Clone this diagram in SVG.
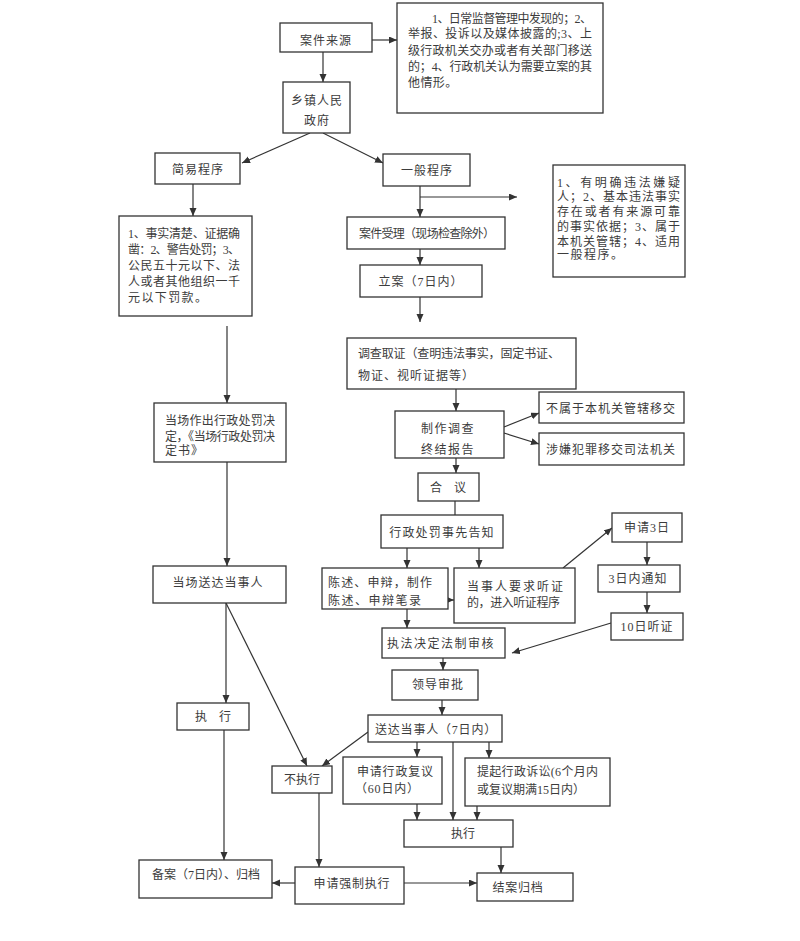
<svg xmlns="http://www.w3.org/2000/svg" width="800" height="941" viewBox="0 0 800 941">
<style>
rect.b{fill:#fff;stroke:#333;stroke-width:1.3}
text{font-family:"Liberation Serif","Noto Sans CJK SC",serif;font-size:12px;fill:#3c3c3c}
text.c{text-anchor:middle}
.cn line,.cn path{stroke:#333;stroke-width:1.2;fill:none}
.cn .a{marker-end:url(#ah)}
</style>
<defs>
<marker id="ah" markerUnits="userSpaceOnUse" markerWidth="9" markerHeight="8" refX="8" refY="3.5" orient="auto">
<path d="M0,0 L8,3.5 L0,7 z" fill="#333"/>
</marker>
</defs>
<rect width="800" height="941" fill="#fff"/>

<g class="cn" id="connectors">
<line class="a" x1="372" y1="40" x2="397" y2="40"/>
<line class="a" x1="323" y1="52" x2="323" y2="82"/>
<line class="a" x1="310" y1="133" x2="242" y2="163"/>
<line class="a" x1="323" y1="133" x2="383" y2="163"/>
<line class="a" x1="193" y1="184" x2="193" y2="216"/>
<line class="a" x1="420" y1="186" x2="420" y2="217"/>
<line class="a" x1="420" y1="197" x2="517" y2="197"/>
<line class="a" x1="420" y1="249" x2="420" y2="265"/>
<line class="a" x1="420" y1="297" x2="420" y2="322"/>
<line class="a" x1="227" y1="326" x2="227" y2="403"/>
<line class="a" x1="227" y1="462" x2="227" y2="566"/>
<line class="a" x1="226" y1="603" x2="226" y2="703"/>
<line class="a" x1="226" y1="603" x2="307" y2="766"/>
<line class="a" x1="224" y1="730" x2="224" y2="860"/>
<line class="a" x1="368" y1="732" x2="322" y2="766"/>
<line class="a" x1="319" y1="793" x2="319" y2="867"/>
<line class="a" x1="295" y1="883" x2="272" y2="883"/>
<line class="a" x1="404" y1="883" x2="477" y2="883"/>
<line class="a" x1="456" y1="389" x2="456" y2="411"/>
<line class="a" x1="504" y1="427" x2="539" y2="413"/>
<line class="a" x1="504" y1="433" x2="539" y2="444"/>
<line class="a" x1="456" y1="458" x2="456" y2="473"/>
<line x1="455" y1="501" x2="455" y2="515"/>
<line class="a" x1="407" y1="548" x2="407" y2="568"/>
<line class="a" x1="479" y1="548" x2="479" y2="568"/>
<line class="a" x1="446" y1="600" x2="454" y2="600"/>
<line class="a" x1="407" y1="609" x2="407" y2="628"/>
<line class="a" x1="563" y1="568" x2="612" y2="528"/>
<line class="a" x1="647" y1="542" x2="647" y2="565"/>
<line class="a" x1="647" y1="592" x2="647" y2="613"/>
<line class="a" x1="611" y1="623" x2="512" y2="653"/>
<line class="a" x1="443" y1="658" x2="443" y2="670"/>
<line class="a" x1="442" y1="700" x2="442" y2="715"/>
<line class="a" x1="417" y1="742" x2="417" y2="757"/>
<line class="a" x1="489" y1="742" x2="489" y2="758"/>
<line class="a" x1="453" y1="742" x2="453" y2="820"/>
<line class="a" x1="417" y1="804" x2="417" y2="820"/>
<line class="a" x1="477" y1="806" x2="477" y2="820"/>
<line class="a" x1="501" y1="847" x2="501" y2="873"/>
</g>

<g id="n-source">
<rect class="b" x="280" y="23" width="92" height="29"/>
<text class="c" x="326" y="44.5" letter-spacing="1">案件来源</text>
</g>

<g id="n-source-list">
<rect class="b" x="397" y="3" width="206" height="110"/>
<text x="432" y="22.5" textLength="160" lengthAdjust="spacing">1、日常监督管理中发现的；2、</text>
<text x="408" y="38" textLength="184" lengthAdjust="spacing">举报、投诉以及媒体披露的;3、上</text>
<text x="408" y="54.5" textLength="184" lengthAdjust="spacing">级行政机关交办或者有关部门移送</text>
<text x="408" y="71" textLength="184" lengthAdjust="spacing">的；4、行政机关认为需要立案的其</text>
<text x="408" y="86.5" letter-spacing="0.4">他情形。</text>
</g>

<g id="n-town">
<rect class="b" x="283" y="82" width="67" height="51"/>
<text class="c" x="317" y="104.5" letter-spacing="1">乡镇人民</text>
<text class="c" x="317" y="124.5" letter-spacing="1">政府</text>
</g>

<g id="n-simple">
<rect class="b" x="155" y="153" width="85" height="31"/>
<text class="c" x="198" y="174" letter-spacing="1">简易程序</text>
</g>

<g id="n-general">
<rect class="b" x="383" y="154" width="87" height="32"/>
<text class="c" x="427" y="174.5" letter-spacing="1">一般程序</text>
</g>

<g id="n-simple-cond">
<rect class="b" x="119" y="216" width="133" height="100"/>
<text x="128" y="237.5" textLength="112" lengthAdjust="spacing">1、事实清楚、证据确</text>
<text x="128" y="253.5" textLength="112" lengthAdjust="spacing">凿：2、警告处罚；3、</text>
<text x="128" y="269.5" textLength="112" lengthAdjust="spacing">公民五十元以下、法</text>
<text x="128" y="285.5" textLength="112" lengthAdjust="spacing">人或者其他组织一千</text>
<text x="128" y="301.5" letter-spacing="1.4">元以下罚款。</text>
</g>

<g id="n-general-cond">
<rect class="b" x="553" y="165" width="132" height="112"/>
<text x="557" y="186.5" textLength="123" lengthAdjust="spacing">1、有明确违法嫌疑</text>
<text x="557" y="201" textLength="123" lengthAdjust="spacing">人；2、基本违法事实</text>
<text x="557" y="215.5" textLength="123" lengthAdjust="spacing">存在或者有来源可靠</text>
<text x="557" y="230.5" textLength="123" lengthAdjust="spacing">的事实依据；3、属于</text>
<text x="557" y="245.5" textLength="123" lengthAdjust="spacing">本机关管辖；4、适用</text>
<text x="557" y="258.5" letter-spacing="1.5">一般程序。</text>
</g>

<g id="n-accept">
<rect class="b" x="347" y="217" width="158" height="32"/>
<text class="c" x="427" y="237.5" textLength="136" lengthAdjust="spacing">案件受理（现场检查除外）</text>
</g>

<g id="n-file">
<rect class="b" x="360" y="265" width="122" height="32"/>
<text class="c" x="421" y="286" letter-spacing="1">立案（7日内）</text>
</g>

<g id="n-investigate">
<rect class="b" x="347" y="338" width="229" height="51"/>
<text x="358" y="357.5" textLength="202" lengthAdjust="spacing">调查取证（查明违法事实，固定书证、</text>
<text x="358" y="379.5" letter-spacing="1">物证、视听证据等）</text>
</g>

<g id="n-report">
<rect class="b" x="395" y="411" width="109" height="47"/>
<text class="c" x="448" y="432.5" letter-spacing="1.5">制作调查</text>
<text class="c" x="448" y="454" letter-spacing="1.5">终结报告</text>
</g>

<g id="n-transfer">
<rect class="b" x="539" y="392" width="145" height="31"/>
<text class="c" x="611" y="413" letter-spacing="1">不属于本机关管辖移交</text>
</g>

<g id="n-crime">
<rect class="b" x="539" y="433" width="145" height="32"/>
<text class="c" x="611" y="454" letter-spacing="1">涉嫌犯罪移交司法机关</text>
</g>

<g id="n-discuss">
<rect class="b" x="418" y="473" width="61" height="28"/>
<text class="c" x="448" y="491.5">合　议</text>
</g>

<g id="n-notice">
<rect class="b" x="381" y="515" width="122" height="33"/>
<text class="c" x="442" y="536.5" letter-spacing="1.2">行政处罚事先告知</text>
</g>

<g id="n-defense">
<rect class="b" x="322" y="568" width="126" height="41"/>
<text x="328" y="586.5" textLength="104" lengthAdjust="spacing">陈述、申辩，制作</text>
<text x="328" y="604.5" letter-spacing="1.5">陈述、申辩笔录</text>
</g>

<g id="n-hearing-req">
<rect class="b" x="454" y="568" width="121" height="55"/>
<text x="467" y="590.5" textLength="96" lengthAdjust="spacing">当事人要求听证</text>
<text x="467" y="606.5" textLength="93" lengthAdjust="spacing">的，进入听证程序</text>
</g>

<g id="n-apply3">
<rect class="b" x="612" y="513" width="70" height="29"/>
<text class="c" x="647" y="532" letter-spacing="1">申请3日</text>
</g>

<g id="n-notify3">
<rect class="b" x="598" y="565" width="82" height="27"/>
<text class="c" x="638" y="583" letter-spacing="1">3日内通知</text>
</g>

<g id="n-hearing10">
<rect class="b" x="611" y="613" width="72" height="27"/>
<text class="c" x="647" y="631" letter-spacing="1">10日听证</text>
</g>

<g id="n-review">
<rect class="b" x="382" y="628" width="123" height="30"/>
<text class="c" x="441" y="647.5" letter-spacing="1.5">执法决定法制审核</text>
</g>

<g id="n-approve">
<rect class="b" x="392" y="670" width="86" height="30"/>
<text class="c" x="438" y="689" letter-spacing="1">领导审批</text>
</g>

<g id="n-onsite-decision">
<rect class="b" x="154" y="403" width="132" height="59"/>
<text x="165" y="424.5" textLength="110" lengthAdjust="spacing">当场作出行政处罚决</text>
<text x="165" y="440.5" textLength="110" lengthAdjust="spacing">定，《当场行政处罚决</text>
<text x="165" y="454.5" letter-spacing="1">定书》</text>
</g>

<g id="n-onsite-deliver">
<rect class="b" x="153" y="566" width="133" height="37"/>
<text class="c" x="218" y="586.5" letter-spacing="1">当场送达当事人</text>
</g>

<g id="n-exec-left">
<rect class="b" x="177" y="703" width="72" height="27"/>
<text class="c" x="213" y="721">执　行</text>
</g>

<g id="n-nonexec">
<rect class="b" x="272" y="766" width="60" height="27"/>
<text class="c" x="302" y="784">不执行</text>
</g>

<g id="n-deliver">
<rect class="b" x="368" y="715" width="134" height="27"/>
<text class="c" x="436" y="733.5" letter-spacing="0.8">送达当事人（7日内）</text>
</g>

<g id="n-reconsider">
<rect class="b" x="343" y="757" width="99" height="47"/>
<text x="357" y="775.5" letter-spacing="0.8">申请行政复议</text>
<text x="355" y="792.5" letter-spacing="0.8">（60日内）</text>
</g>

<g id="n-lawsuit">
<rect class="b" x="465" y="758" width="145" height="48"/>
<text x="477" y="775.5" textLength="121" lengthAdjust="spacing">提起行政诉讼(6个月内</text>
<text x="477" y="793.5" textLength="108" lengthAdjust="spacing">或复议期满15日内）</text>
</g>

<g id="n-exec-mid">
<rect class="b" x="404" y="820" width="109" height="27"/>
<text class="c" x="463" y="838">执行</text>
</g>

<g id="n-record">
<rect class="b" x="139" y="860" width="133" height="38"/>
<text class="c" x="206" y="878.5" textLength="108" lengthAdjust="spacing">备案（7日内）、归档</text>
</g>

<g id="n-enforce">
<rect class="b" x="295" y="867" width="109" height="37"/>
<text class="c" x="352" y="887.5" letter-spacing="0.8">申请强制执行</text>
</g>

<g id="n-close">
<rect class="b" x="477" y="873" width="96" height="28"/>
<text class="c" x="518" y="891.5" letter-spacing="0.8">结案归档</text>
</g>
</svg>
